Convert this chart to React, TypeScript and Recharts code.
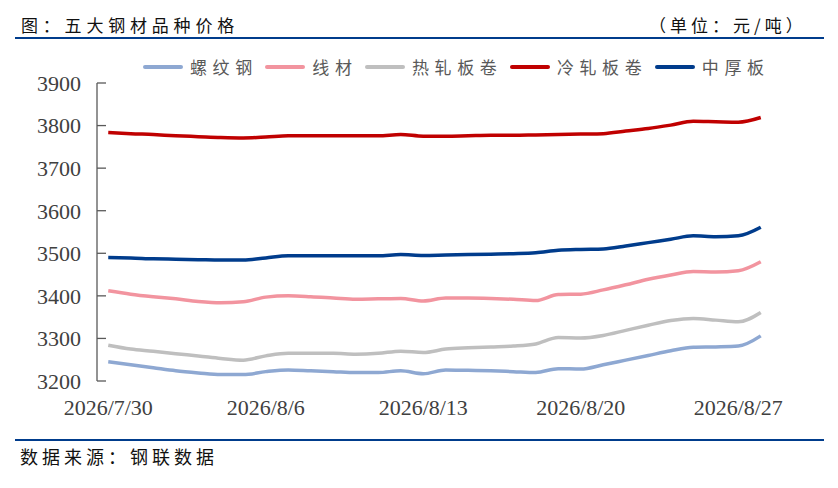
import React from "react";
import { LineChart, Line, XAxis, YAxis } from "recharts";

const dates = [
  "2026/7/30", "2026/7/31", "2026/8/1", "2026/8/2", "2026/8/3", "2026/8/4",
  "2026/8/5", "2026/8/6", "2026/8/7", "2026/8/8", "2026/8/9", "2026/8/10",
  "2026/8/11", "2026/8/12", "2026/8/13", "2026/8/14", "2026/8/15", "2026/8/16",
  "2026/8/17", "2026/8/18", "2026/8/19", "2026/8/20", "2026/8/21", "2026/8/22",
  "2026/8/23", "2026/8/24", "2026/8/25", "2026/8/26", "2026/8/27", "2026/8/28",
];

// 螺纹钢
const rebar = [
  3245, 3238, 3231, 3224, 3219, 3215, 3215, 3222, 3226, 3224, 3222, 3220, 3220, 3224, 3217,
  3226, 3225, 3224, 3222, 3220, 3229, 3228, 3238, 3249, 3260, 3271, 3279, 3280, 3282, 3306,
];
// 线材
const wire = [
  3412, 3404, 3398, 3393, 3387, 3384, 3386, 3397, 3400, 3398, 3395, 3392, 3393, 3394, 3388,
  3395, 3395, 3394, 3392, 3389, 3403, 3404, 3414, 3426, 3439, 3449, 3457, 3456, 3459, 3480,
];
// 热轧板卷
const hotCoil = [
  3284, 3275, 3270, 3264, 3259, 3253, 3249, 3259, 3265, 3265, 3265, 3263, 3265, 3270, 3267,
  3275, 3278, 3280, 3282, 3287, 3302, 3301, 3307, 3319, 3331, 3342, 3347, 3343, 3339, 3361,
];
// 冷轧板卷
const coldCoil = [
  3784, 3781, 3779, 3776, 3774, 3772, 3771, 3773, 3776, 3776, 3776, 3776, 3776, 3779, 3775,
  3775, 3776, 3777, 3777, 3778, 3779, 3780, 3781, 3787, 3793, 3801, 3810, 3809, 3808, 3819,
];
// 中厚板
const plate = [
  3490, 3489, 3487, 3486, 3485, 3484, 3484, 3489, 3494, 3494, 3494, 3494, 3494, 3497, 3495,
  3496, 3497, 3498, 3499, 3501, 3507, 3509, 3510, 3517, 3525, 3533, 3541, 3539, 3541, 3561,
];

const seriesNames = ["螺纹钢", "线材", "热轧板卷", "冷轧板卷", "中厚板"];
const seriesColors = ["#8EA8D2", "#F2949F", "#BFBFBF", "#C00000", "#003C8C"];
const seriesValues = [rebar, wire, hotCoil, coldCoil, plate];

const yTicks = [3200, 3300, 3400, 3500, 3600, 3700, 3800, 3900];
const labelTicks = [0, 7, 14, 21, 28];
const weekTicks = [-0.5, 6.5, 13.5, 20.5, 27.5];

const data = dates.map((d, i) => {
  const row: Record<string, number | string> = { i, date: d };
  seriesNames.forEach((name, k) => {
    row[name] = seriesValues[k][i];
  });
  return row;
});

const CJK = '"Noto Sans CJK SC", sans-serif';
const NUM = '"Liberation Serif", "Times New Roman", serif';
const AXIS = "#595959";

function Legend() {
  return (
    <div
      style={{
        position: "absolute",
        left: 143,
        top: 54,
        display: "flex",
        alignItems: "center",
        fontFamily: CJK,
        fontSize: 17,
        letterSpacing: 5.6,
        color: "#595959",
        whiteSpace: "nowrap",
      }}
    >
      {seriesNames.map((name, k) => (
        <div key={name} style={{ display: "flex", alignItems: "center", marginRight: 7.5 }}>
          <span
            style={{
              display: "inline-block",
              width: 40,
              height: 4,
              borderRadius: 2,
              background: seriesColors[k],
              marginRight: 7,
            }}
          />
          <span>{name}</span>
        </div>
      ))}
    </div>
  );
}

export default function App() {
  return (
    <div style={{ position: "absolute", left: 0, top: 0, width: 838, height: 488, background: "#fff" }}>
      <div
        style={{
          position: "absolute",
          left: 21,
          top: 12,
          fontFamily: CJK,
          fontSize: 17,
          letterSpacing: 4.8,
          color: "#111",
          whiteSpace: "nowrap",
        }}
      >
        图：五大钢材品种价格
      </div>
      <div
        style={{
          position: "absolute",
          left: 649,
          top: 12,
          fontFamily: CJK,
          fontSize: 17,
          letterSpacing: 4,
          color: "#111",
          whiteSpace: "nowrap",
        }}
      >
        （单位：元/吨）
      </div>
      <div style={{ position: "absolute", left: 15, top: 37, width: 809, height: 2, background: "#003C8C" }} />
      <Legend />
      <div style={{ position: "absolute", left: 0, top: 0 }}>
        <LineChart
          width={838}
          height={488}
          data={data}
          margin={{ top: 83, right: 66, bottom: 77, left: 0 }}
        >
          <XAxis
            xAxisId="main"
            type="number"
            dataKey="i"
            domain={[-0.5, 29.5]}
            ticks={weekTicks}
            interval={0}
            tick={false}
            tickSize={-9}
            height={0}
            axisLine={{ stroke: AXIS, strokeWidth: 1.3 }}
            tickLine={{ stroke: AXIS, strokeWidth: 1.3 }}
          />
          <XAxis
            xAxisId="label"
            type="number"
            dataKey="i"
            domain={[-0.5, 29.5]}
            allowDataOverflow
            ticks={labelTicks}
            interval={0}
            tickFormatter={(v: number) => dates[v] ?? ""}
            axisLine={false}
            tickLine={false}
            tickSize={0}
            tickMargin={18}
            height={30}
            tick={{ fontFamily: NUM, fontSize: 22, fill: "#404040" }}
          />
          <YAxis
            type="number"
            domain={[3200, 3900]}
            ticks={yTicks}
            interval={0}
            width={97}
            tickSize={-9}
            tickMargin={25}
            axisLine={{ stroke: AXIS, strokeWidth: 1.3 }}
            tickLine={{ stroke: AXIS, strokeWidth: 1.3 }}
            tick={{ fontFamily: NUM, fontSize: 22, fill: "#404040" }}
          />
          {seriesNames.map((name, k) => (
            <Line
              key={name}
              xAxisId="main"
              type="monotone"
              dataKey={name}
              stroke={seriesColors[k]}
              strokeWidth={3.5}
              dot={false}
              isAnimationActive={false}
            />
          ))}
        </LineChart>
      </div>
      <div style={{ position: "absolute", left: 15, top: 439, width: 809, height: 2, background: "#003C8C" }} />
      <div
        style={{
          position: "absolute",
          left: 20,
          top: 443,
          fontFamily: CJK,
          fontSize: 18,
          letterSpacing: 4,
          color: "#111",
          whiteSpace: "nowrap",
        }}
      >
        数据来源：钢联数据
      </div>
    </div>
  );
}
